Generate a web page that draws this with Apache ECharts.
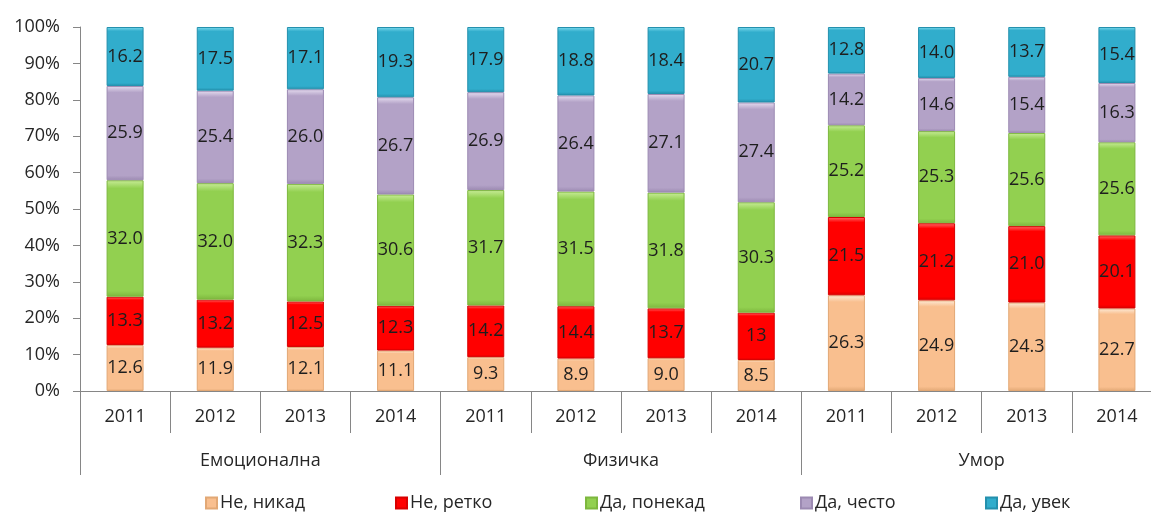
<!DOCTYPE html>
<html>
<head>
<meta charset="utf-8">
<script src="https://cdn.jsdelivr.net/npm/echarts@6/dist/echarts.min.js"></script>
<style>
html,body{margin:0;padding:0;background:#fff;overflow:hidden;}
#c{width:1170px;height:512px;}
</style>
</head>
<body>
<div id="c"></div>
<script>
const years = ['2011','2012','2013','2014','2011','2012','2013','2014','2011','2012','2013','2014'];
const groups = ['Емоционална','Физичка','Умор'];
const seriesNames = ['Не, никад','Не, ретко','Да, понекад','Да, често','Да, увек'];
const neNikad   = ['12.6','11.9','12.1','11.1','9.3','8.9','9.0','8.5','26.3','24.9','24.3','22.7'];
const neRetko   = ['13.3','13.2','12.5','12.3','14.2','14.4','13.7','13','21.5','21.2','21.0','20.1'];
const daPonekad = ['32.0','32.0','32.3','30.6','31.7','31.5','31.8','30.3','25.2','25.3','25.6','25.6'];
const daCesto   = ['25.9','25.4','26.0','26.7','26.9','26.4','27.1','27.4','14.2','14.6','15.4','16.3'];
const daUvek    = ['16.2','17.5','17.1','19.3','17.9','18.8','18.4','20.7','12.8','14.0','13.7','15.4'];
const yTicks = ['0%','10%','20%','30%','40%','50%','60%','70%','80%','90%','100%'];

const allSeries = [neNikad, neRetko, daPonekad, daCesto, daUvek];
const baseColors = ['#F9BF8F','#FF0000','#92D050','#B3A2C7','#31ADCC'];
const lightColors = ['#FDEBD8','#FF6A6A','#C8EC98','#E6DDF0','#7FDCEF'];
const darkColors = ['#E2A875','#D80000','#7DB73E','#9C8AB2','#2490AD'];

const totals = years.map((_, i) => allSeries.reduce((s, arr) => s + parseFloat(arr[i]), 0));

const FONT = '"Open Sans", sans-serif';

function grad(i) {
  return {
    type: 'linear', x: 0, y: 0, x2: 0, y2: 1,
    colorStops: [
      {offset: 0, color: lightColors[i]},
      {offset: 0.07, color: baseColors[i]},
      {offset: 0.95, color: baseColors[i]},
      {offset: 1, color: darkColors[i]}
    ]
  };
}

const series = allSeries.map((arr, si) => ({
  name: seriesNames[si],
  type: 'bar',
  stack: 'total',
  barWidth: 37,
  xAxisIndex: 0,
  itemStyle: {color: grad(si), borderColor: darkColors[si], borderWidth: 1},
  label: {
    show: true,
    position: 'inside',
    fontFamily: FONT,
    fontSize: 18,
    color: '#1e1e1e',
    formatter: p => p.data.raw
  },
  data: arr.map((v, i) => ({value: parseFloat(v) / totals[i] * 100, raw: v}))
}));

const legendLefts = [200, 390, 580, 795, 980];
const legends = seriesNames.map((n, i) => ({
  data: [n],
  left: legendLefts[i],
  top: 489,
  icon: 'rect',
  itemWidth: 11,
  itemHeight: 11,
  itemGap: 4,
  textStyle: {fontFamily: FONT, fontSize: 18, color: '#262626', padding: [0,0,0,-2]},
  itemStyle: {color: baseColors[i]}
}));

const chart = echarts.init(document.getElementById('c'), null, {renderer: 'canvas'});
chart.setOption({
  animation: false,
  backgroundColor: '#fff',
  grid: {left: 80, top: 27, width: 1082, height: 364, containLabel: false},
  legend: legends,
  xAxis: [
    {
      type: 'category', data: years, position: 'bottom',
      axisLine: {lineStyle: {color: '#868686', width: 1}},
      axisTick: {show: true, length: 42, lineStyle: {color: '#868686'}},
      axisLabel: {margin: 17, fontFamily: FONT, fontSize: 18, color: '#262626', interval: 0}
    },
    {
      type: 'category', data: groups, position: 'bottom',
      axisLine: {show: false},
      axisTick: {show: true, length: 84, lineStyle: {color: '#868686'}},
      axisLabel: {margin: 61, fontFamily: FONT, fontSize: 18, color: '#262626', interval: 0}
    }
  ],
  yAxis: {
    type: 'value', min: 0, max: 100, interval: 10,
    splitLine: {show: false},
    axisLine: {show: true, lineStyle: {color: '#868686'}},
    axisTick: {show: true, length: 7, lineStyle: {color: '#868686'}},
    axisLabel: {margin: 20, fontFamily: FONT, fontSize: 18, color: '#262626',
      formatter: v => yTicks[Math.round(v / 10)]}
  },
  series: series
});
</script>
</body>
</html>
